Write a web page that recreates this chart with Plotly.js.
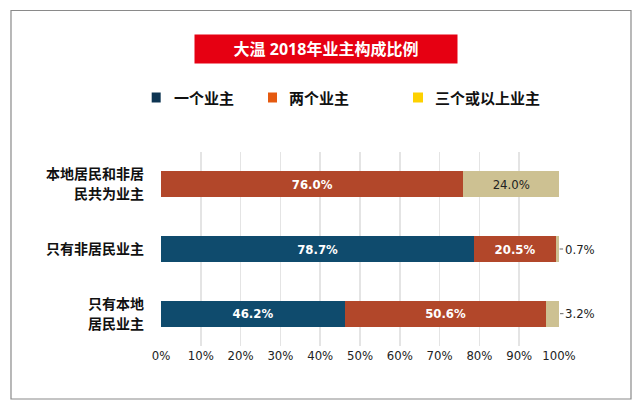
<!DOCTYPE html>
<html>
<head>
<meta charset="utf-8">
<script src="https://cdn.plot.ly/plotly-3.0.1.min.js"></script>
<style>
  html, body { margin: 0; padding: 0; background: #ffffff; }
  #chart { width: 643px; height: 410px; }
</style>
</head>
<body>
<div id="chart"></div>
<script>
// ---- data ----
const categories = ['本地居民和非居<br>民共为业主', '只有非居民业主', '只有本地<br>居民业主'];
const seriesNames = ['一个业主', '两个业主', '三个或以上业主'];
const oneOwner = [0, 78.7, 46.2];
const twoOwners = [76.0, 20.5, 50.6];
const threePlus = [24.0, 0.7, 3.2];
const tickVals = [0, 10, 20, 30, 40, 50, 60, 70, 80, 90, 100];
const tickText = ['0%', '10%', '20%', '30%', '40%', '50%', '60%', '70%', '80%', '90%', '100%'];
const titleText = '大温 2018年业主构成比例';

// ---- styles ----
const barColors = ['#0f4b6d', '#b2472a', '#cdc192'];
const legendColors = ['#0d3452', '#e55a10', '#fdd100'];
const labelColors = ['#ffffff', '#ffffff', '#222222'];
const numFont = 'DejaVu Sans Condensed, Liberation Sans Narrow, sans-serif';
const cjkFont = 'Noto Sans CJK SC, sans-serif';
const titleFont = 'Noto Sans, Noto Sans CJK SC, sans-serif';

const seriesValues = [oneOwner, twoOwners, threePlus];
const fmt = v => v.toFixed(1) + '%';

const traces = seriesValues.map((vals, i) => ({
  type: 'bar',
  orientation: 'h',
  name: seriesNames[i],
  y: categories,
  x: vals,
  width: 0.4,
  marker: { color: barColors[i], line: { width: 0 } },
  text: vals.map(v => (v >= 5 ? fmt(v) : '')),
  textposition: 'inside',
  insidetextanchor: 'middle',
  constraintext: 'none',
  textangle: 0,
  textfont: { family: numFont, size: 13, color: labelColors[i], weight: i < 2 ? 'bold' : 'normal' },
  hoverinfo: 'skip',
  showlegend: false
}));

const annotations = [];

// category labels (one annotation per line, right aligned)
const lineGap = 20;
categories.forEach(cat => {
  const lines = cat.split('<br>');
  lines.forEach((ln, j) => {
    annotations.push({
      x: -0.038, y: cat, xref: 'paper', yref: 'y', xanchor: 'right', yanchor: 'middle',
      yshift: (lines.length - 1) * lineGap / 2 - j * lineGap + 1,
      text: ln, showarrow: false,
      font: { family: cjkFont, size: 14, color: '#111111', weight: 'bold' }
    });
  });
});

// outside labels for small last-segment values
threePlus.forEach((v, k) => {
  if (v < 5) {
    const total = oneOwner[k] + twoOwners[k] + threePlus[k];
    annotations.push({
      x: Math.min(total, 100), y: categories[k], xref: 'x', yref: 'y',
      text: fmt(v), showarrow: true, arrowhead: 0, arrowwidth: 1, arrowcolor: '#666666',
      ax: 21, ay: 0, standoff: 1,
      font: { family: numFont, size: 13, color: '#222222' }
    });
  }
});

// title box
annotations.push({
  x: 0.4146, y: 1.5309, xref: 'paper', yref: 'paper', xanchor: 'center', yanchor: 'middle',
  text: titleText, showarrow: false, bgcolor: '#e60012', width: 262, height: 28, borderpad: 0,
  font: { family: titleFont, size: 16, color: '#ffffff', weight: 'bold' }
});

// legend (manual)
const legendSquares = [[-0.0234, -0.0008], [0.2688, 0.2915], [0.6332, 0.6583]];
const legendTextX = [0.0276, 0.3166, 0.6834];
const shapes = [];
seriesNames.forEach((nm, i) => {
  shapes.push({
    type: 'rect', xref: 'paper', yref: 'paper',
    x0: legendSquares[i][0], x1: legendSquares[i][1], y0: 1.2552, y1: 1.3067,
    fillcolor: legendColors[i], line: { width: 0 }
  });
  annotations.push({
    x: legendTextX[i], y: 1.2809, xref: 'paper', yref: 'paper', xanchor: 'left', yanchor: 'middle',
    text: nm, showarrow: false,
    font: { family: cjkFont, size: 15, color: '#111111', weight: 'bold' }
  });
});

// frame
shapes.push({
  type: 'rect', xref: 'paper', yref: 'paper',
  x0: -0.3769, x1: 1.1809, y0: -0.2732, y1: 1.7294,
  line: { color: '#8a8a8a', width: 1.2 }, fillcolor: 'rgba(0,0,0,0)', layer: 'below'
});

const layout = {
  width: 643, height: 410,
  margin: { l: 161, r: 84, t: 152, b: 64 },
  paper_bgcolor: '#ffffff', plot_bgcolor: '#ffffff',
  barmode: 'stack',
  showlegend: false,
  xaxis: {
    range: [0, 100], tickvals: tickVals, ticktext: tickText,
    showgrid: true, gridcolor: '#e4e4e4', gridwidth: 1.5,
    zeroline: false, showline: false, ticks: '',
    tickfont: { family: numFont, size: 13, color: '#222222' },
    fixedrange: true
  },
  yaxis: {
    autorange: 'reversed', type: 'category',
    showgrid: false, zeroline: false, showline: false, ticks: '',
    showticklabels: false,
    fixedrange: true
  },
  annotations: annotations,
  shapes: shapes
};

Plotly.newPlot('chart', traces, layout, { displayModeBar: false, staticPlot: true });
</script>
</body>
</html>
